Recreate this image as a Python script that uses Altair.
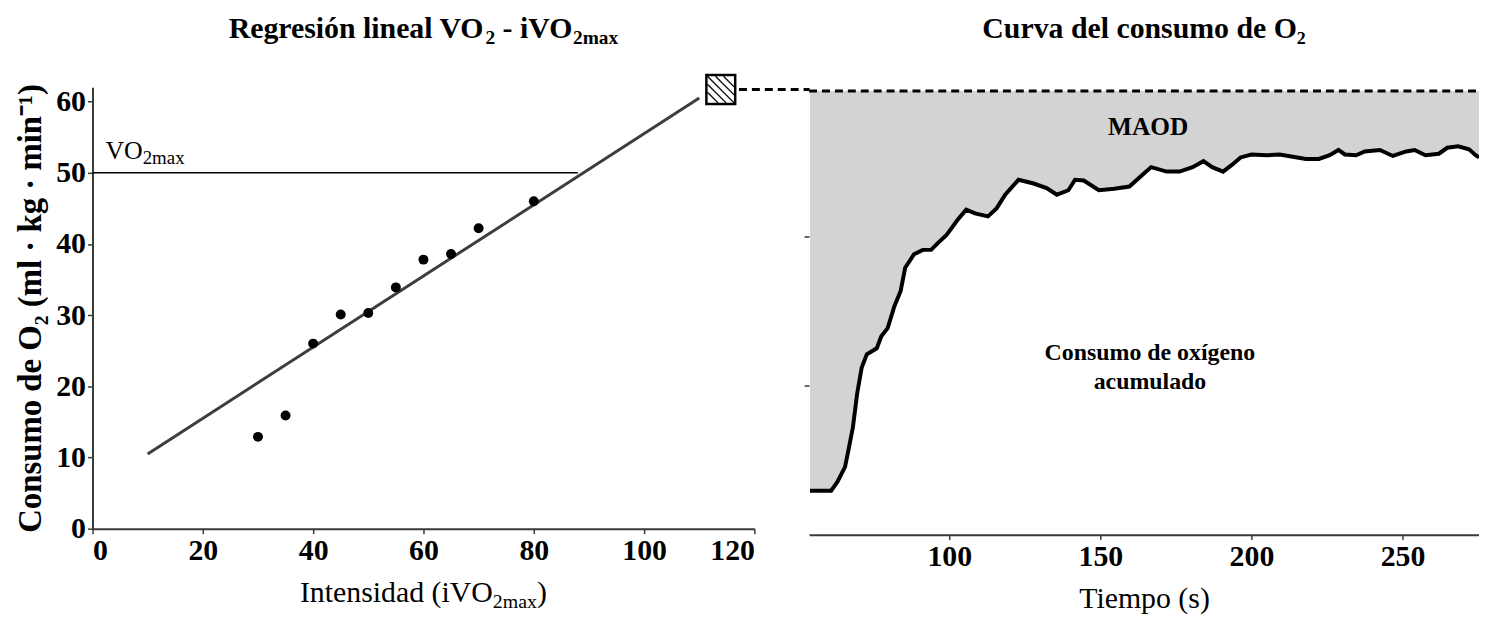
import altair as alt
import pandas as pd

# ---------------- Left panel data ----------------
INTENSIDAD = [30, 35, 40, 45, 50, 55, 60, 65, 70, 80]
VO2 = [12.9, 15.9, 26.0, 30.1, 30.3, 33.9, 37.8, 38.6, 42.2, 46.0]
REG_X = [10, 110]
REG_Y = [10.5, 60.5]
VO2MAX = 50
VO2MAX_X = [0, 88]
DEMANDA_X = 113.9
DEMANDA_Y = 61.7

# ---------------- Right panel data ----------------
TIEMPO = [53.9, 55.4, 60.9, 63.0, 65.5, 66.6, 68.1, 69.5, 71.0, 72.7,
          76.0, 77.5, 79.6, 81.8, 83.9, 85.4, 88.3, 91.2, 94.0, 96.2,
          99.1, 102.7, 105.6, 108.5, 112.8, 115.7, 118.5, 122.9, 127.9, 132.2,
          135.6, 139.4, 141.6, 144.5, 149.5, 154.6, 159.6, 163.2, 166.8, 171.9,
          176.2, 180.5, 184.1, 187.0, 190.6, 193.5, 196.4, 200.0, 205.0, 209.3,
          213.7, 218.0, 222.3, 225.9, 228.8, 230.9, 234.6, 237.5, 242.5, 246.8,
          251.2, 254.0, 257.6, 262.0, 264.8, 268.4, 272.0, 274.2, 275.3]
CONSUMO = [5.9, 5.9, 5.9, 7.1, 9.1, 11.3, 14.4, 18.9, 22.4, 24.2,
           25.0, 26.6, 27.7, 30.6, 32.7, 35.8, 37.6, 38.2, 38.2, 39.1,
           40.2, 42.2, 43.6, 43.1, 42.7, 43.8, 45.6, 47.6, 47.1, 46.5,
           45.6, 46.2, 47.6, 47.5, 46.2, 46.4, 46.7, 48.0, 49.3, 48.7,
           48.7, 49.3, 50.1, 49.3, 48.7, 49.6, 50.6, 51.0, 50.9, 51.0,
           50.7, 50.4, 50.4, 50.9, 51.6, 51.0, 50.9, 51.4, 51.6, 50.8,
           51.4, 51.6, 50.9, 51.1, 51.9, 52.1, 51.7, 50.9, 50.6]
DEMANDA_CURVA = 59.5
T_DOMAIN = [53.6, 275.3]

SERIF = "Liberation Serif"
AXC = "#3a3a3a"
LW, LH = 666, 444
RW, RH = 674, 450

ONE = pd.DataFrame({"k": [0]})


def piece(text, x, y, size, bold=False, align="left"):
    """A piece of typeset text (used for sub-scripted titles)."""
    return alt.Chart(ONE).mark_text(
        text=text, font=SERIF, fontSize=size, fontWeight="bold" if bold else "normal",
        align=align, baseline="alphabetic", color="black", clip=False,
    ).encode(x=alt.value(x), y=alt.value(y))


# ---------------- Left panel ----------------
xl_scale = alt.Scale(domain=[0, 120], nice=False)
yl_scale = alt.Scale(domain=[0, 62], nice=False)
xl_axis = alt.Axis(values=[0, 20, 40, 60, 80, 100, 120], title="")
yl_axis = alt.Axis(values=[0, 10, 20, 30, 40, 50, 60], title="Consumo de O₂ (ml · kg · min⁻¹)",
                   titleFontWeight="bold", titleFontSize=33, titlePadding=8, labelPadding=2)

pts_df = pd.DataFrame({"x": INTENSIDAD, "y": VO2})
reg_df = pd.DataFrame({"x": REG_X, "y": REG_Y})
vmax_df = pd.DataFrame({"x": [VO2MAX_X[0]], "x2": [VO2MAX_X[1]], "y": [VO2MAX]})
sq_df = pd.DataFrame({"x": [DEMANDA_X], "y": [DEMANDA_Y]})
dash_l_df = pd.DataFrame({"x": [DEMANDA_X + 3.3], "x2": [130.0], "y": [DEMANDA_Y]})

reg = alt.Chart(reg_df).mark_line(color="#3d3d3d", strokeWidth=3).encode(
    x=alt.X("x:Q", scale=xl_scale, axis=xl_axis),
    y=alt.Y("y:Q", scale=yl_scale, axis=yl_axis),
)
vmax = alt.Chart(vmax_df).mark_rule(color="black", strokeWidth=1.5).encode(
    x=alt.X("x:Q", scale=xl_scale), x2="x2:Q", y=alt.Y("y:Q", scale=yl_scale)
)
pts = alt.Chart(pts_df).mark_circle(color="black", size=100, opacity=1).encode(
    x=alt.X("x:Q", scale=xl_scale), y=alt.Y("y:Q", scale=yl_scale)
)
dash_l = alt.Chart(dash_l_df).mark_rule(color="black", strokeWidth=3, strokeDash=[8, 5], clip=False).encode(
    x=alt.X("x:Q", scale=xl_scale), x2="x2:Q", y=alt.Y("y:Q", scale=yl_scale)
)
sq = alt.Chart(sq_df).mark_point(shape="square", size=840, filled=True, fill="white",
                                 stroke="black", strokeWidth=2.5, opacity=1, clip=False).encode(
    x=alt.X("x:Q", scale=xl_scale), y=alt.Y("y:Q", scale=yl_scale)
)
HATCH = "M-1,-1L1,1M-0.4,-1L1,0.4M-1,-0.4L0.4,1M0.2,-1L1,-0.2M-1,0.2L-0.2,1"
hatch = alt.Chart(sq_df).mark_point(shape=HATCH, size=720, filled=False, stroke="black",
                                    strokeWidth=1.3, opacity=1, clip=False).encode(
    x=alt.X("x:Q", scale=xl_scale), y=alt.Y("y:Q", scale=yl_scale)
)

# title "Regresión lineal VO2 - iVO2max" (bold 30, subscripts 19.5)
T0 = LW / 2 - 196
left_title = [
    piece("Regresión lineal VO", T0, -50, 30, True),
    piece("2", T0 + 258.3, -44, 19.5, True),
    piece("- iVO", T0 + 275.6, -50, 30, True),
    piece("2max", T0 + 346.4, -44, 19.5, True),
]
# label VO2max
vlabel = [
    piece("VO", 13, 72, 26),
    piece("2max", 50.5, 77, 19),
]
# x-axis title "Intensidad (iVO2max)"
X0 = LW / 2 - 124.3
xtitle = [
    piece("Intensidad (iVO", X0, LH + 74, 30),
    piece("2max", X0 + 194.1, LH + 80, 20),
    piece(")", X0 + 238.5, LH + 74, 30),
]

left = alt.layer(reg, vmax, pts, dash_l, sq, hatch, *left_title, *vlabel, *xtitle).properties(
    width=LW, height=LH,
)

# ---------------- Right panel ----------------
xr_scale = alt.Scale(domain=T_DOMAIN, nice=False, zero=False)
yr_scale = alt.Scale(domain=[0, 60], nice=False)
xr_axis = alt.Axis(values=[100, 150, 200, 250], title="Tiempo (s)", titlePadding=12)
yr_axis = alt.Axis(values=[20, 40], labels=False, domain=False, title="", tickSize=5)

curve_df = pd.DataFrame({"t": TIEMPO, "v": CONSUMO})
dem_df = pd.DataFrame({"t": [T_DOMAIN[0]], "t2": [T_DOMAIN[1]], "v": [DEMANDA_CURVA]})

area = alt.Chart(curve_df).mark_area(color="#d3d3d3", opacity=1, clip=True).encode(
    x=alt.X("t:Q", scale=xr_scale, axis=xr_axis),
    y=alt.Y("v:Q", scale=yr_scale, axis=yr_axis),
    y2=alt.datum(DEMANDA_CURVA),
)
line = alt.Chart(curve_df).mark_line(color="black", strokeWidth=4, clip=True).encode(
    x=alt.X("t:Q", scale=xr_scale), y=alt.Y("v:Q", scale=yr_scale)
)
dash_r = alt.Chart(dem_df).mark_rule(color="black", strokeWidth=3, strokeDash=[8, 5], clip=True).encode(
    x=alt.X("t:Q", scale=xr_scale), x2="t2:Q", y=alt.Y("v:Q", scale=yr_scale)
)
maod = alt.Chart(pd.DataFrame({"t": [165.8], "v": [54.7]})).mark_text(
    text="MAOD", font=SERIF, fontSize=25.5, fontWeight="bold", color="black", baseline="middle"
).encode(x=alt.X("t:Q", scale=xr_scale), y=alt.Y("v:Q", scale=yr_scale))
acum = alt.Chart(pd.DataFrame({"t": [166.4], "v": [24.3]})).mark_text(
    text="Consumo de oxígeno\nacumulado", lineBreak="\n", lineHeight=29,
    font=SERIF, fontSize=24, fontWeight="bold", color="black", baseline="middle"
).encode(x=alt.X("t:Q", scale=xr_scale), y=alt.Y("v:Q", scale=yr_scale))
right_title = piece("Curva del consumo de O₂", RW / 2, -50, 30, True, align="center")

right = alt.layer(area, line, dash_r, maod, acum, right_title).properties(
    width=RW, height=RH,
)

chart = alt.hconcat(left, right, spacing=55, bounds="flush").properties(
    padding={"left": 7, "top": 4, "right": 0, "bottom": 0}
).configure_view(stroke=None).configure_axis(
    labelFont=SERIF, labelFontSize=30, labelFontWeight="bold", labelColor="black",
    titleFont=SERIF, titleFontSize=30, titleFontWeight="normal", titleColor="black",
    domainColor=AXC, tickColor=AXC, domainWidth=2, tickWidth=1.5, tickSize=5, grid=False,
    labelPadding=2,
)

chart.save("out.html", embed_options={"renderer": "svg", "actions": False})
